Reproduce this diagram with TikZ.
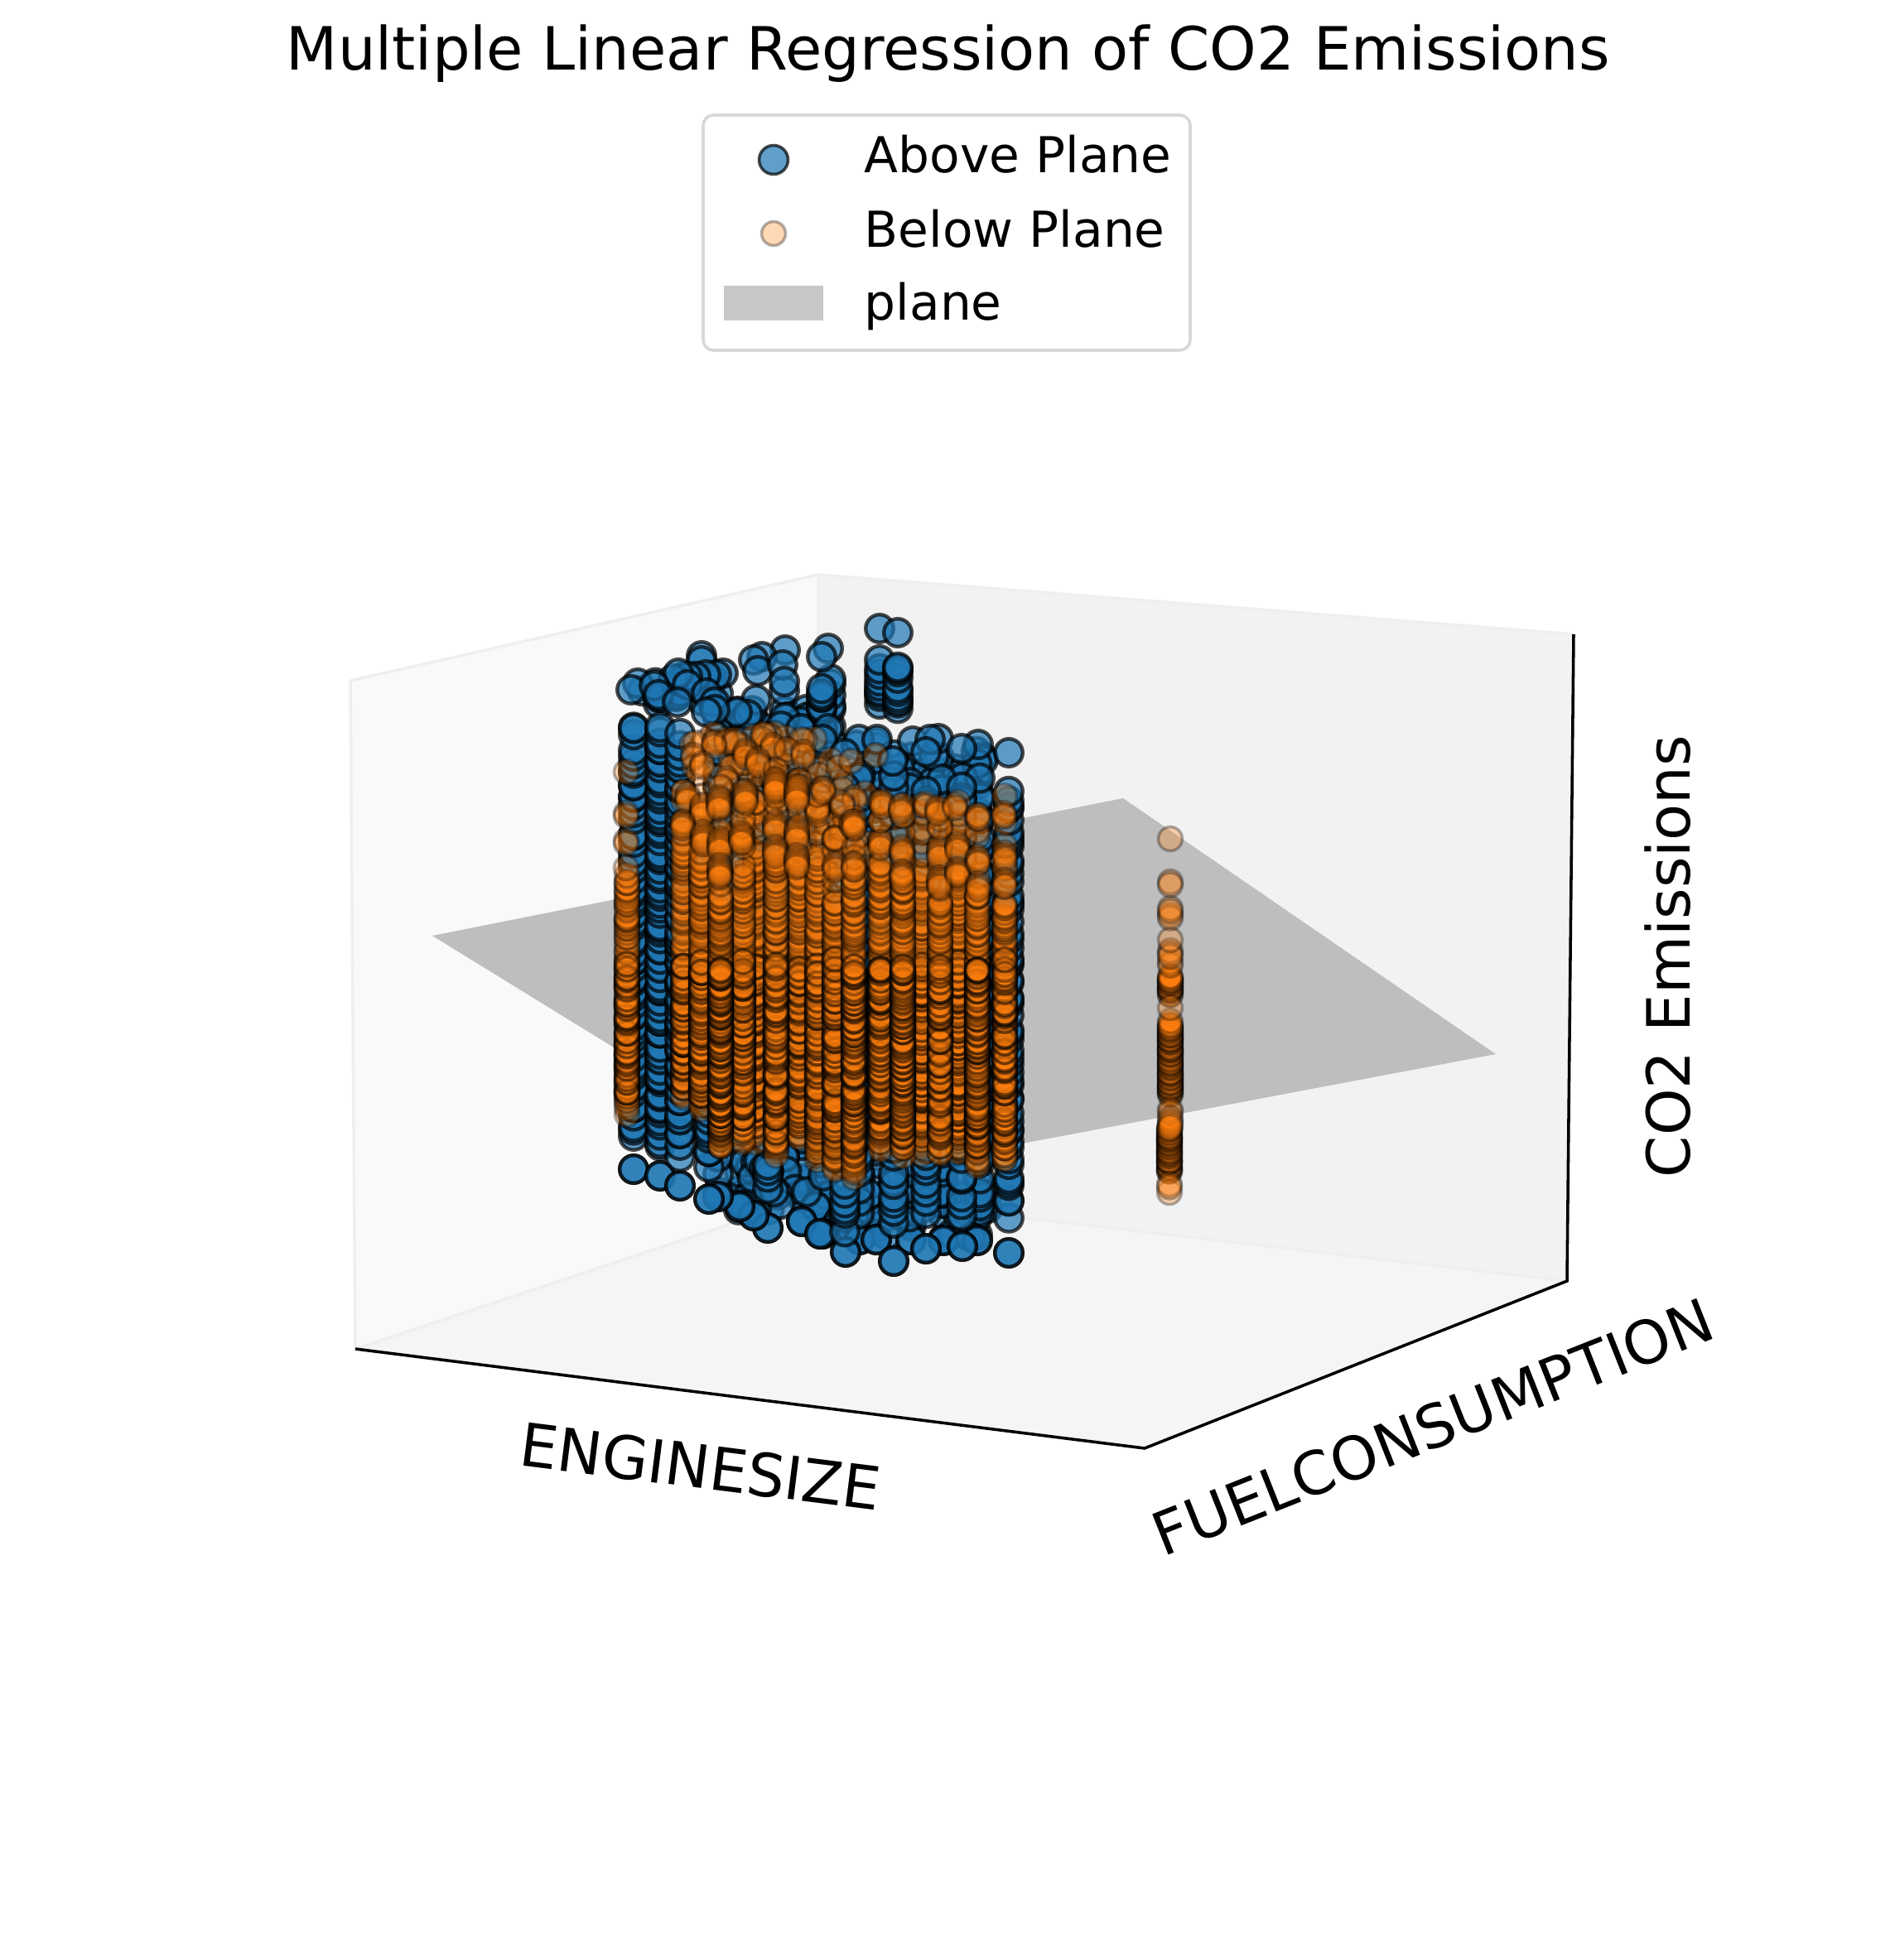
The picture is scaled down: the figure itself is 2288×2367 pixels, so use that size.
\documentclass[tikz,border=0pt]{standalone}
\usepackage{fontspec}
\setmainfont{DejaVu Sans}
\definecolor{tabblue}{HTML}{1F77B4}
\definecolor{taborange}{HTML}{FF7F0E}
\definecolor{paneL}{HTML}{F9F9F9}
\definecolor{paneR}{HTML}{F2F2F2}
\definecolor{paneF}{HTML}{F5F5F5}
\definecolor{paneedge}{HTML}{EFEFEF}
\definecolor{planegray}{HTML}{BEBEBE}
\definecolor{patchgray}{HTML}{C8C8C8}
\definecolor{legendedge}{HTML}{D8D8D8}
\tikzset{
  x=0.24bp,y=-0.24bp,
  bluept/.style={fill=tabblue,fill opacity=0.7,draw=black,draw opacity=0.7,line width=1.05bp},
  orangept/.style={fill=taborange,fill opacity=0.3,draw=black,draw opacity=0.3,line width=0.85bp},
  orangedark/.style={fill=taborange,fill opacity=0.3,draw=black,draw opacity=0.5,line width=0.85bp},
  axisline/.style={draw=black,line width=0.85bp},
  panel/.style={draw=paneedge,line width=0.85bp},
  axlabel/.style={font=\fontsize{17.3bp}{20bp}\selectfont,inner sep=0},
  legtext/.style={font=\fontsize{14.35bp}{17bp}\selectfont,anchor=base west,inner sep=0}
}
\pgfmathsetseed{4242}
\newcommand{\bcol}[4]{\foreach \i in {1,...,#4}{\pgfmathsetmacro\yy{#3-(\i-1+1.5*rnd)/#4*(#3-#2)}\path[bluept] (#1,\yy) circle[radius=16.8];}}
\newcommand{\ocol}[4]{\foreach \i in {1,...,#4}{\pgfmathsetmacro\yy{#3-(\i-1+3*rnd)/#4*(#3-#2)}\path[orangept] (#1,\yy) circle[radius=14.5];}}
\newcommand{\odk}[3]{\foreach \i in {1,...,#3}{\pgfmathsetmacro\yy{#2-(\i-1+3*rnd)/#3*(#2-1170)}\path[orangedark] (#1,\yy) circle[radius=14.5];}}
\newcommand{\bpts}[1]{\foreach \a/\b in {#1}{\path[bluept] (\a,\b) circle[radius=16.8];}}
\newcommand{\bptsd}[1]{\foreach \a/\b in {#1}{\path[bluept] (\a,\b) circle[radius=16.8];\path[bluept] (\a,\b) circle[radius=16.8];}}
\newcommand{\opts}[1]{\foreach \a/\b/\k in {#1}{\foreach \j in {1,...,\k}{\pgfmathsetmacro\dd{(\j-1)*3.5}\path[orangept] (\a,\b+\dd) circle[radius=14.5];}}}
\newcommand{\bcloud}[5]{\foreach \i in {1,...,#5}{\pgfmathsetmacro\xx{#1+rnd*(#2-#1)}\pgfmathsetmacro\yy{#3+rnd*(#4-#3)}\path[bluept] (\xx,\yy) circle[radius=16.8];}}
\newcommand{\ocloud}[5]{\foreach \i in {1,...,#5}{\pgfmathsetmacro\xx{#1+rnd*(#2-#1)}\pgfmathsetmacro\yy{#3+rnd*(#4-#3)}\path[orangept] (\xx,\yy) circle[radius=14.5];}}
\begin{document}
\begin{tikzpicture}
\path[use as bounding box,fill=white] (0,0) rectangle (2288,2367);
% panes
\fill[paneL] (423,822) -- (988,694) -- (990,1442) -- (429,1629) -- cycle;
\fill[paneR] (988,694) -- (1900,766) -- (1892,1547) -- (990,1442) -- cycle;
\fill[paneF] (429,1629) -- (990,1442) -- (1892,1547) -- (1382,1749) -- cycle;
\draw[panel] (423,822) -- (988,694) -- (1900,766);
\draw[panel] (988,694) -- (990,1442);
\draw[panel] (429,1629) -- (990,1442) -- (1892,1547);
\draw[panel] (423,822) -- (429,1629);
% axes
\draw[axisline] (429,1629) -- (1382,1749) -- (1892,1547) -- (1900,766);
% plane
\fill[planegray] (522,1130) -- (1356,964) -- (1806,1273) -- (1001,1425) -- cycle;
% blue points, back to front
\bcol{1180}{937}{1498}{36}
\bcol{1139}{937}{1498}{36}
\bcol{1100}{937}{1497}{36}
\bcol{1058}{893}{1497}{36}
\bcol{1038}{937}{1497}{36}
\bcol{1003}{820}{880}{6}
\bcol{993}{870}{1490}{40}
\bcol{968}{890}{1475}{36}
\bcol{947}{840}{1450}{36}
\bcol{910}{870}{1468}{36}
\bcol{893}{870}{1457}{36}
\bcol{867}{860}{1445}{36}
\bcloud{775}{870}{815}{850}{24}
\bcloud{880}{990}{855}{925}{30}
\bpts{847/792,847/798,873/813,865/815,852/815,840/817,830/817,813/820,819/813,830/827,853/837,863/848,
 948/785,920/793,910/797,915/810,945/803,947/823,913/845,903/863,943/877,927/890,967/880,890/860,863/857}
\bcol{1062}{798}{853}{9}
\bpts{1062/759}
\bcol{1084}{802}{860}{10}
\bpts{1084/764}
\bpts{1000/783,992/793}
\bcol{992}{828}{865}{7}
\bcloud{1000}{1190}{895}{950}{24}
\bpts{1000/880,993/893,1037/893,1059/893,1102/895,1133/892,1123/893,1181/899}
\bcloud{880}{1000}{1400}{1465}{25}
\bcloud{1000}{1200}{1440}{1495}{20}
\bptsd{993/1490,1038/1497,1058/1497,1100/1497,1139/1498,1180/1498,968/1475,990/1490}
% front columns
\bptsd{1218/1513,1162/1505,1118/1508,1079/1523,1021/1512,927/1483,910/1468,893/1457,867/1445,856/1448}
\bcol{1183}{937}{1470}{40}
\bcol{1137}{937}{1470}{40}
\bcol{1098}{937}{1470}{36}
\bcol{1037}{937}{1470}{36}
\bcol{1218}{950}{1473}{55}
\bcol{1161}{944}{1470}{45}
\bcol{1118}{947}{1473}{45}
\bcol{1079}{940}{1493}{45}
\bcol{1020}{950}{1490}{45}
\bcol{927}{915}{1447}{40}
\bpts{1020/910,1078/919,1118/908,1161/904,1218/909}
\bcol{856}{1020}{1413}{40}
\bpts{853/860}
\bptsd{765/1412}\bcol{765}{873}{1383}{60}
\bptsd{797/1420}\bcol{797}{878}{1390}{70}
\bptsd{821/1432}\bcol{821}{888}{1397}{60}
\bpts{770/825,762/833,790/828,795/839,818/848}
% orange upper cluster (faint, back)
\ocloud{835}{985}{885}{950}{36}
\ocloud{985}{1050}{915}{985}{6}
\ocloud{840}{1000}{960}{1060}{30}
\ocloud{985}{1060}{985}{1060}{14}
\opts{922/887/1,877/893/2,887/893/2,968/893/1,862/898/2,933/900/2,950/905/1,900/907/3,970/908/1,837/912/2,915/917/3,848/922/2,970/912/1,1028/919/1,1057/912/1,
 940/940/3,960/947/3,993/952/1,1017/953/1,1032/963/2,877/940/2}
% orange columns, back to front
\ocol{825}{1010}{1330}{75}\odk{825}{1320}{30}\ocol{825}{963}{1010}{6}
\ocol{847}{1040}{1343}{90}\odk{847}{1330}{40}\ocol{847}{970}{1040}{7}
\ocol{757}{1060}{1347}{90}\odk{757}{1330}{30}
\ocol{912}{1030}{1380}{90}\odk{912}{1360}{40}\ocol{912}{960}{1030}{7}
\ocol{965}{1060}{1380}{100}\odk{965}{1360}{35}\ocol{965}{950}{1060}{10}
\ocol{897}{1050}{1382}{90}\odk{897}{1360}{40}\ocol{897}{955}{1050}{8}
\ocol{870}{1085}{1390}{130}\odk{870}{1370}{70}\ocol{870}{963}{1085}{10}
\ocol{1063}{1045}{1393}{100}\odk{1063}{1375}{50}\ocol{1063}{967}{1045}{7}
\ocol{1113}{1060}{1395}{90}\odk{1113}{1375}{40}\ocol{1113}{972}{1060}{7}
\ocol{1157}{1055}{1395}{100}\odk{1157}{1375}{50}\ocol{1157}{972}{1055}{7}
\ocol{1090}{1060}{1397}{110}\odk{1090}{1375}{60}\ocol{1090}{973}{1060}{7}
\ocol{1135}{1090}{1397}{100}\odk{1135}{1375}{35}\ocol{1135}{975}{1090}{9}
\ocol{937}{1040}{1400}{100}\odk{937}{1380}{40}\ocol{937}{942}{1040}{8}
\ocol{1213}{1090}{1408}{100}\odk{1213}{1385}{35}\ocol{1213}{982}{1090}{8}
\ocol{987}{1040}{1410}{90}\odk{987}{1390}{35}\ocol{987}{953}{1040}{7}
\ocol{1180}{1080}{1412}{105}\odk{1180}{1385}{60}\ocol{1180}{985}{1080}{7}
\ocol{1008}{1090}{1417}{100}\odk{1008}{1395}{35}\ocol{1008}{1000}{1090}{7}
\ocol{1031}{1060}{1423}{110}\odk{1031}{1400}{55}\ocol{1031}{992}{1060}{6}
\opts{756/932/1,756/982/2,756/1015/2,756/1048/1,
 830/960/3,848/972/4,868/963/5,900/955/5,
 824/993/3,849/1005/5,869/1013/5,895/1007/4,869/1045/5,
 936/942/5,962/950/6,936/993/4,962/1000/5,936/1023/4,962/1033/5,
 994/953/2,1017/970/2,1065/967/3,1088/973/3,1118/970/2,1132/975/3,1153/972/2,1181/985/2,1212/982/2,1028/993/2,
 1008/1043/3,1031/992/3,1031/1043/3,1063/1017/3,1089/1023/3,1089/1053/3,1134/1025/4,1134/1060/4,1156/1020/3,1156/1050/3,1181/1035/3,1181/1067/3,1213/1030/3,1213/1063/3}
% isolated orange column
\ocol{1413}{1180}{1203}{16}
\ocol{1413}{1237}{1325}{60}
\ocol{1412}{1363}{1417}{40}
\opts{1412/1440/1,1412/1430/2,1413/1340/2,1413/1350/4,1413/1233/1,1413/1217/1,1413/1162/2,1413/1148/3,1413/1135/1,1413/1105/2,1413/1097/2,1413/1065/2,1413/1013/1}
% title
\node[inner sep=0,font=\fontsize{17.28bp}{20bp}\selectfont] (title) at (1145,65) {Multiple Linear Regression of CO2 Emissions};
% legend
\draw[draw=legendedge,fill=white,line width=0.85bp,rounded corners=3bp] (849,139) rectangle (1437,423);
\path[bluept,line width=0.85bp] (934,193) circle[radius=17.5];
\path[orangept,line width=0.85bp] (934,282) circle[radius=14.5];
\fill[patchgray] (874,345) rectangle (994,387);
\node[legtext] (t1) at (1043,208) {Above Plane};
\node[legtext] (t2) at (1043,298) {Below Plane};
\node[legtext] (t3) at (1043,386) {plane};
% axis labels
\node[axlabel,rotate=-7.2] (xl) at (846,1771) {ENGINESIZE};
\node[axlabel,rotate=21.6] (yl) at (1730,1723) {FUELCONSUMPTION};
\node[axlabel,rotate=90] (zl) at (2014,1155) {CO2 Emissions};
\end{tikzpicture}
\end{document}
